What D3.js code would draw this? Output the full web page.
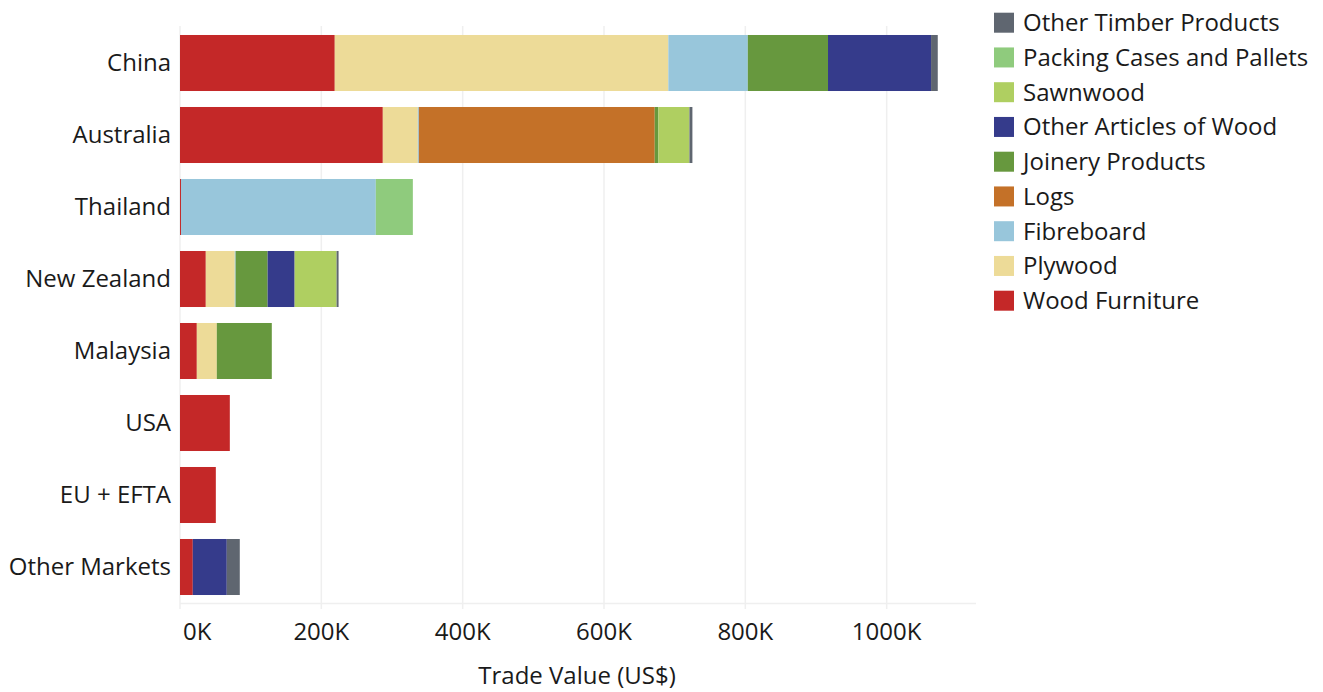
<!DOCTYPE html>
<html>
<head>
<meta charset="utf-8">
<script src="https://cdn.jsdelivr.net/npm/d3@7"></script>
<style>
  html, body { margin: 0; padding: 0; background: #fff; }
  svg { display: block; }
  text { font-family: "Open Sans", "Noto Sans", sans-serif; fill: #1a1a1a; }
</style>
</head>
<body>
<svg id="chart" width="1323" height="692"></svg>
<script>
// Export markets, top to bottom
const markets = ["China", "Australia", "Thailand", "New Zealand", "Malaysia", "USA", "EU + EFTA", "Other Markets"];

// Trade value by product (thousand US$), one entry per market
const woodFurniture    = [219, 287, 1.4, 36.5, 23.8, 70.5, 50.7, 18.1];
const plywood          = [472, 49.5, 0, 41, 28.3, 0, 0, 0];
const fibreboard       = [112.5, 1.5, 275.7, 1.2, 0, 0, 0, 0];
const logs             = [0, 333.8, 0, 0, 0, 0, 0, 0];
const joineryProducts  = [113.5, 5.2, 0, 45.3, 77.8, 0, 0, 0];
const otherArticles    = [145.8, 0, 0, 38.2, 0, 0, 0, 48.1];
const sawnwood         = [0, 43.9, 0, 59.4, 0, 0, 0, 0];
const packingCases     = [0, 0, 52.4, 0, 0, 0, 0, 0];
const otherTimber      = [9.5, 4.2, 0, 2.8, 0, 0, 0, 18.4];

// Products in stacking order (left to right)
const products = ["Wood Furniture", "Plywood", "Fibreboard", "Logs", "Joinery Products",
                  "Other Articles of Wood", "Sawnwood", "Packing Cases and Pallets", "Other Timber Products"];
const productValues = [woodFurniture, plywood, fibreboard, logs, joineryProducts,
                       otherArticles, sawnwood, packingCases, otherTimber];
const productColors = ["#c42828", "#eddb98", "#98c6db", "#c47128", "#67983e",
                       "#353b8b", "#afcf61", "#8fcb7d", "#5f6670"];

const xTicks = [0, 200, 400, 600, 800, 1000];
const xTickLabels = ["0K", "200K", "400K", "600K", "800K", "1000K"];
const xTitle = "Trade Value (US$)";

// Build rows for d3.stack
const rows = markets.map((m, i) => {
  const r = { market: m };
  products.forEach((p, j) => { r[p] = productValues[j][i]; });
  return r;
});

const svg = d3.select("#chart");

const x = d3.scaleLinear().domain([0, 1125]).range([180, 975]);
const y = d3.scaleBand().domain(markets).range([27, 603]).paddingInner(0.222).paddingOuter(0.111);
const color = d3.scaleOrdinal().domain(products).range(productColors);

// Gridlines
svg.append("g").selectAll("line").data(xTicks).join("line")
  .attr("x1", d => x(d)).attr("x2", d => x(d))
  .attr("y1", 26).attr("y2", 609)
  .attr("stroke", "#efefef").attr("stroke-width", 1.5);
svg.append("line")
  .attr("x1", x(0)).attr("x2", 976).attr("y1", 603.5).attr("y2", 603.5)
  .attr("stroke", "#efefef").attr("stroke-width", 1.5);

// Stacked bars
const series = d3.stack().keys(products)(rows);
svg.append("g").selectAll("g").data(series).join("g")
  .attr("fill", d => color(d.key))
  .selectAll("rect").data(d => d.filter(s => s[1] > s[0])).join("rect")
  .attr("x", d => x(d[0]))
  .attr("width", d => x(d[1]) - x(d[0]))
  .attr("y", d => y(d.data.market))
  .attr("height", y.bandwidth());

// Category labels
svg.append("g").selectAll("text").data(markets).join("text")
  .attr("x", 171)
  .attr("y", d => y(d) + y.bandwidth() / 2)
  .attr("dy", "0.35em")
  .attr("text-anchor", "end")
  .style("font-size", "24px")
  .text(d => d);

// X tick labels
svg.append("g").selectAll("text").data(xTicks).join("text")
  .attr("x", (d, i) => i === 0 ? x(d) + 3 : x(d))
  .attr("y", 632)
  .attr("dy", "0.35em")
  .attr("text-anchor", (d, i) => i === 0 ? "start" : "middle")
  .style("font-size", "24px")
  .text((d, i) => xTickLabels[i]);

// X axis title
svg.append("text")
  .attr("x", 577).attr("y", 676).attr("dy", "0.35em")
  .attr("text-anchor", "middle")
  .style("font-size", "24px")
  .text(xTitle);

// Legend (reverse stacking order)
const legendItems = products.slice().reverse();
const legend = svg.append("g").selectAll("g").data(legendItems).join("g")
  .attr("transform", (d, i) => `translate(994, ${12.7 + i * 34.75})`);
legend.append("rect").attr("width", 20).attr("height", 20).attr("fill", d => color(d));
legend.append("text")
  .attr("x", 29).attr("y", 10).attr("dy", "0.35em")
  .style("font-size", "24px")
  .text(d => d);
</script>
</body>
</html>
